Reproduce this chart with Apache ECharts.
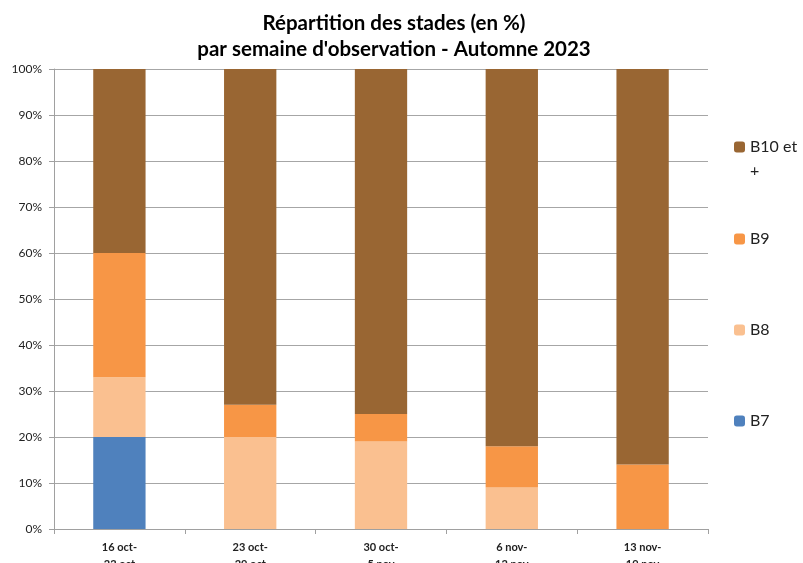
<!DOCTYPE html>
<html><head><meta charset="utf-8">
<script src="https://cdn.jsdelivr.net/npm/echarts@6/dist/echarts.min.js"></script>
<style>html,body{margin:0;padding:0;background:#fff}#c{width:803px;height:563px}</style>
</head><body><div id="c"></div>
<script>
const categories = ['16 oct-\n22 oct', '23 oct-\n29 oct', '30 oct-\n5 nov', '6 nov-\n12 nov', '13 nov-\n19 nov'];
const seriesNames = ['B7', 'B8', 'B9', 'B10 et\n+'];
const b7 = [20, 0, 0, 0, 0];
const b8 = [13, 20, 19, 9, 0];
const b9 = [27, 7, 6, 9, 14];
const b10 = [40, 73, 75, 82, 86];
const yTicks = [0, 10, 20, 30, 40, 50, 60, 70, 80, 90, 100];

const colors = ['#4F81BD', '#FAC090', '#F79646', '#996633'];
const values = [b7, b8, b9, b10];
const font = 'Lato, "Open Sans", sans-serif';

const chart = echarts.init(document.getElementById('c'));
const legendTops = [409, 318, 227, 111];
chart.setOption({
  animation: false,
  textStyle: { fontFamily: font },
  title: {
    text: "Répartition des stades (en %)\npar semaine d'observation - Automne 2023",
    left: 389, top: 5, textAlign: 'center',
    textStyle: { fontFamily: font, fontSize: 20.5, fontWeight: 'bold', color: '#000', lineHeight: 26 }
  },
  legend: seriesNames.map((n, i) => ({
    data: [n], orient: 'vertical', left: 734, top: legendTops[i], padding: 0,
    itemWidth: 11, itemHeight: 11, itemGap: 0, selectedMode: false,
    formatter: (name) => name.split('\n').map(s => '{t|' + s + '}').join('\n'),
    textStyle: { fontFamily: font, fontSize: 16, color: '#222', lineHeight: 24,
      padding: i === 3 ? [24, 0, 0, 0] : 0,
      rich: { t: { fontFamily: font, fontSize: 16, color: '#222', lineHeight: 24 } } }
  })),
  grid: { left: 54, right: 95, top: 69, bottom: 34, containLabel: false, outerBoundsMode: 'none' },
  xAxis: {
    type: 'category', data: categories,
    axisLine: { lineStyle: { color: '#A0A0A0', width: 1 } },
    axisTick: { show: true, length: 5, lineStyle: { color: '#A0A0A0' } },
    axisLabel: { fontFamily: font, fontSize: 11, fontWeight: 'bold', color: '#222', margin: 10, lineHeight: 17 }
  },
  yAxis: {
    type: 'value', min: yTicks[0], max: yTicks[yTicks.length - 1], interval: yTicks[1] - yTicks[0],
    axisLine: { show: true, lineStyle: { color: '#A0A0A0', width: 1 } },
    axisTick: { show: true, length: 5, lineStyle: { color: '#A0A0A0' } },
    splitLine: { lineStyle: { color: '#A6A6A6', width: 1 } },
    axisLabel: { fontFamily: font, fontSize: 12, color: '#222', margin: 12, formatter: '{value}%' }
  },
  series: seriesNames.map((n, i) => ({
    name: n, type: 'bar', stack: 'total', barWidth: '40%',
    itemStyle: { color: colors[i] },
    data: values[i]
  }))
});
</script></body></html>
